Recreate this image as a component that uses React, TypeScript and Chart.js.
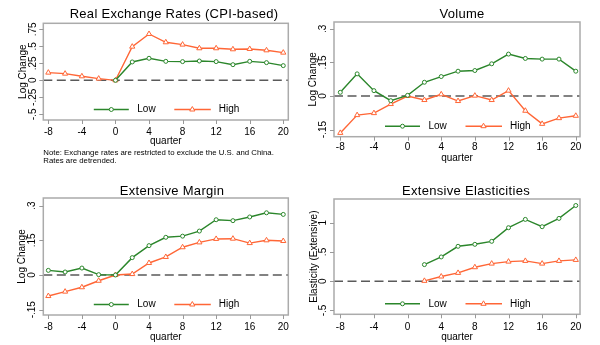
import React, { useEffect, useRef } from "react";
import { Chart, registerables } from "chart.js";

Chart.register(...registerables);

// ---------- data ----------
const QUARTERS = [-8, -6, -4, -2, 0, 2, 4, 6, 8, 10, 12, 14, 16, 18, 20];
const X_TICKS = [-8, -4, 0, 4, 8, 12, 16, 20];
const X_TICK_LABELS = ["-8", "-4", "0", "4", "8", "12", "16", "20"];
const SERIES_NAMES = ["Low", "High"];
const X_TITLE = "quarter";

const TITLES = [
  "Real Exchange Rates (CPI-based)",
  "Volume",
  "Extensive Margin",
  "Extensive Elasticities",
];
const Y_TITLES = ["Log Change", "Log Change", "Log Change", "Elasticity (Extensive)"];

const RER_LOW = [null, null, null, null, 0.0, 0.27, 0.324, 0.279, 0.275, 0.284, 0.275, 0.23, 0.279, 0.26, 0.216];
const RER_HIGH = [0.113, 0.098, 0.059, 0.025, 0.0, 0.495, 0.681, 0.559, 0.525, 0.471, 0.471, 0.456, 0.461, 0.441, 0.407];

const VOL_LOW = [0.0165, 0.099, 0.024, -0.021, 0.003, 0.0615, 0.087, 0.111, 0.114, 0.144, 0.1875, 0.168, 0.165, 0.165, 0.111];
const VOL_HIGH = [-0.165, -0.0855, -0.0765, -0.036, 0.0, -0.018, 0.0075, -0.0225, 0.0015, -0.018, 0.024, -0.066, -0.1245, -0.099, -0.0885];

const EXT_LOW = [0.02, 0.013, 0.03, 0.0015, 0.0, 0.075, 0.127, 0.163, 0.168, 0.19, 0.239, 0.235, 0.251, 0.269, 0.262];
const EXT_HIGH = [-0.091, -0.072, -0.053, -0.025, 0.0, 0.004, 0.052, 0.078, 0.12, 0.141, 0.156, 0.157, 0.138, 0.15, 0.147];

const ELA_LOW = [null, null, null, null, null, 0.284, 0.415, 0.597, 0.631, 0.682, 0.915, 1.057, 0.932, 1.074, 1.295];
const ELA_HIGH = [null, null, null, null, null, 0.006, 0.08, 0.142, 0.239, 0.301, 0.335, 0.347, 0.301, 0.347, 0.364];

const Y_TICKS_RER = [-0.5, -0.25, 0, 0.25, 0.5, 0.75];
const Y_LABELS_RER = ["-.5", "-.25", "0", ".25", ".5", ".75"];
const Y_TICKS_LOG = [-0.15, 0, 0.15, 0.3];
const Y_LABELS_LOG = ["-.15", "0", ".15", ".3"];
const Y_TICKS_ELA = [-0.5, 0, 0.5, 1];
const Y_LABELS_ELA = ["-.5", "0", ".5", "1"];

const NOTE_LINES = [
  "Note: Exchange rates are restricted to exclude the U.S. and China.",
  "Rates are detrended.",
];

// ---------- styles ----------
const GREEN = "#2b862b";
const ORANGE = "#ff6636";
const FRAME = "#ababab";
const FONT = "'Liberation Sans', Arial, sans-serif";
const TEXT = "#000000";

type Panel = {
  left: number; top: number; w: number; h: number;
  pad: { left: number; top: number; right: number; bottom: number };
  xMin: number; xMax: number; yMin: number; yMax: number;
  title: string; titleX: number; titleY: number;
  yTitle: string; yTicks: number[]; yLabels: string[];
  low: (number | null)[]; high: (number | null)[];
  xLabOff: number; xTitleOff: number; yLabOff: number; yTitleOff: number;
  note?: string[];
};

const PANELS: Panel[] = [
  {
    left: 0, top: 0, w: 300, h: 175,
    pad: { left: 43.3, top: 23.3, right: 11.7, bottom: 55 },
    xMin: -8.6, xMax: 20.6, yMin: -0.583, yMax: 0.838,
    title: TITLES[0], titleX: 174, titleY: 14,
    yTitle: Y_TITLES[0], yTicks: Y_TICKS_RER, yLabels: Y_LABELS_RER,
    low: RER_LOW, high: RER_HIGH,
    xLabOff: 12, xTitleOff: 21, yLabOff: 10.5, yTitleOff: 20.5,
    note: NOTE_LINES,
  },
  {
    left: 300, top: 0, w: 300, h: 175,
    pad: { left: 34, top: 22, right: 20, bottom: 38.3 },
    xMin: -8.75, xMax: 20.5, yMin: -0.182, yMax: 0.331,
    title: TITLES[1], titleX: 162, titleY: 14,
    yTitle: Y_TITLES[1], yTicks: Y_TICKS_LOG, yLabels: Y_LABELS_LOG,
    low: VOL_LOW, high: VOL_HIGH,
    xLabOff: 11, xTitleOff: 22, yLabOff: 11, yTitleOff: 21,
  },
  {
    left: 0, top: 175, w: 300, h: 170,
    pad: { left: 43.3, top: 23, right: 11.7, bottom: 30 },
    xMin: -8.6, xMax: 20.6, yMin: -0.173, yMax: 0.333,
    title: TITLES[2], titleX: 172, titleY: 16,
    yTitle: Y_TITLES[2], yTicks: Y_TICKS_LOG, yLabels: Y_LABELS_LOG,
    low: EXT_LOW, high: EXT_HIGH,
    xLabOff: 12.5, xTitleOff: 22, yLabOff: 11.5, yTitleOff: 21.5,
  },
  {
    left: 300, top: 175, w: 300, h: 170,
    pad: { left: 34, top: 24, right: 20, bottom: 30.7 },
    xMin: -8.75, xMax: 20.5, yMin: -0.566, yMax: 1.406,
    title: TITLES[3], titleX: 166, titleY: 16,
    yTitle: Y_TITLES[3], yTicks: Y_TICKS_ELA, yLabels: Y_LABELS_ELA,
    low: ELA_LOW, high: ELA_HIGH,
    xLabOff: 12.5, xTitleOff: 22.5, yLabOff: 11, yTitleOff: 20,
  },
];

function toPoints(vals: (number | null)[]) {
  const out: { x: number; y: number }[] = [];
  QUARTERS.forEach((q, i) => {
    const v = vals[i];
    if (v !== null && v !== undefined) out.push({ x: q, y: v });
  });
  return out;
}

function drawMarker(ctx: CanvasRenderingContext2D, kind: string, x: number, y: number, color: string) {
  ctx.save();
  ctx.strokeStyle = color;
  ctx.fillStyle = "#ffffff";
  ctx.lineWidth = 1;
  ctx.beginPath();
  if (kind === "circle") {
    ctx.arc(x, y, 2, 0, Math.PI * 2);
  } else {
    const r = 3;
    let rad = 0;
    ctx.moveTo(x + Math.sin(rad) * r, y - Math.cos(rad) * r);
    rad += (2 * Math.PI) / 3;
    ctx.lineTo(x + Math.sin(rad) * r, y - Math.cos(rad) * r);
    rad += (2 * Math.PI) / 3;
    ctx.lineTo(x + Math.sin(rad) * r, y - Math.cos(rad) * r);
    ctx.closePath();
  }
  ctx.fill();
  ctx.stroke();
  ctx.restore();
}

function makeDecor(p: Panel) {
  return {
    id: "decor",
    beforeDatasetsDraw(chart: any) {
      const ctx: CanvasRenderingContext2D = chart.ctx;
      const a = chart.chartArea;
      const xs = chart.scales.x;
      const ys = chart.scales.y;
      ctx.save();
      // zero reference line
      const y0 = ys.getPixelForValue(0);
      ctx.strokeStyle = "#5a5a5a";
      ctx.lineWidth = 1.5;
      ctx.setLineDash([9, 4.5]);
      ctx.beginPath();
      ctx.moveTo(a.left, y0);
      ctx.lineTo(a.right, y0);
      ctx.stroke();
      ctx.setLineDash([]);
      // frame
      ctx.strokeStyle = FRAME;
      ctx.lineWidth = 1.5;
      ctx.strokeRect(a.left, a.top, a.right - a.left, a.bottom - a.top);
      // tick marks
      ctx.lineWidth = 1;
      ctx.strokeStyle = "#999999";
      ctx.beginPath();
      X_TICKS.forEach((t) => {
        const x = Math.round(xs.getPixelForValue(t)) + 0.5;
        ctx.moveTo(x, a.bottom);
        ctx.lineTo(x, a.bottom + 4);
      });
      p.yTicks.forEach((t) => {
        const y = Math.round(ys.getPixelForValue(t)) + 0.5;
        ctx.moveTo(a.left, y);
        ctx.lineTo(a.left - 4, y);
      });
      ctx.stroke();
      ctx.restore();
    },
    afterDraw(chart: any) {
      const ctx: CanvasRenderingContext2D = chart.ctx;
      const a = chart.chartArea;
      const xs = chart.scales.x;
      const ys = chart.scales.y;
      ctx.save();
      ctx.fillStyle = TEXT;
      // title
      ctx.font = `13px ${FONT}`;
      (ctx as any).letterSpacing = "0.3px";
      ctx.textAlign = "center";
      ctx.textBaseline = "middle";
      ctx.fillText(p.title, p.titleX, p.titleY);
      (ctx as any).letterSpacing = "0px";
      // x tick labels
      ctx.font = `10px ${FONT}`;
      X_TICKS.forEach((t, i) => {
        ctx.fillText(X_TICK_LABELS[i], xs.getPixelForValue(t), a.bottom + p.xLabOff);
      });
      ctx.fillText(X_TITLE, (a.left + a.right) / 2, a.bottom + p.xTitleOff);
      // y tick labels (rotated)
      p.yTicks.forEach((t, i) => {
        ctx.save();
        ctx.translate(a.left - p.yLabOff, ys.getPixelForValue(t));
        ctx.rotate(-Math.PI / 2);
        ctx.fillText(p.yLabels[i], 0, 0);
        ctx.restore();
      });
      // y title
      ctx.save();
      ctx.translate(a.left - p.yTitleOff, (a.top + a.bottom) / 2);
      ctx.rotate(-Math.PI / 2);
      ctx.fillText(p.yTitle, 0, 0);
      ctx.restore();
      // legend inside plot
      const cx = (a.left + a.right) / 2;
      const ly = a.bottom - 10.5;
      ctx.lineWidth = 1.4;
      ctx.strokeStyle = GREEN;
      ctx.beginPath();
      ctx.moveTo(cx - 72, ly);
      ctx.lineTo(cx - 37, ly);
      ctx.stroke();
      drawMarker(ctx, "circle", cx - 54.5, ly, GREEN);
      ctx.strokeStyle = ORANGE;
      ctx.beginPath();
      ctx.moveTo(cx + 8.5, ly);
      ctx.lineTo(cx + 45, ly);
      ctx.stroke();
      drawMarker(ctx, "triangle", cx + 26.5, ly, ORANGE);
      ctx.fillStyle = TEXT;
      ctx.textAlign = "left";
      ctx.fillText(SERIES_NAMES[0], cx - 28.5, ly);
      ctx.fillText(SERIES_NAMES[1], cx + 53, ly);
      // note
      if (p.note) {
        ctx.font = `7.8px ${FONT}`;
        ctx.textBaseline = "middle";
        p.note.forEach((line, i) => {
          ctx.fillText(line, a.left, a.bottom + 33 + i * 7.5);
        });
      }
      ctx.restore();
    },
  };
}

function PanelChart({ p }: { p: Panel }) {
  const ref = useRef<HTMLCanvasElement | null>(null);
  useEffect(() => {
    if (!ref.current) return;
    const chart = new Chart(ref.current, {
      type: "line",
      data: {
        datasets: [
          {
            label: SERIES_NAMES[0],
            data: toPoints(p.low),
            borderColor: GREEN,
            borderWidth: 1.4,
            pointStyle: "circle",
            pointRadius: 2,
            pointBorderWidth: 1,
            pointBorderColor: GREEN,
            pointBackgroundColor: "#ffffff",
            tension: 0,
            fill: false,
          },
          {
            label: SERIES_NAMES[1],
            data: toPoints(p.high),
            borderColor: ORANGE,
            borderWidth: 1.4,
            pointStyle: "triangle",
            pointRadius: 3,
            pointBorderWidth: 1,
            pointBorderColor: ORANGE,
            pointBackgroundColor: "#ffffff",
            tension: 0,
            fill: false,
          },
        ],
      },
      options: {
        responsive: false,
        devicePixelRatio: 1,
        animation: false,
        events: [],
        layout: { padding: p.pad },
        scales: {
          x: { type: "linear", min: p.xMin, max: p.xMax, display: false },
          y: { type: "linear", min: p.yMin, max: p.yMax, display: false },
        },
        plugins: {
          legend: { display: false },
          title: { display: false },
          tooltip: { enabled: false },
        },
      },
      plugins: [makeDecor(p)],
    } as any);
    return () => chart.destroy();
  }, [p]);
  return (
    <canvas
      ref={ref}
      width={p.w}
      height={p.h}
      style={{ position: "absolute", left: p.left, top: p.top, width: p.w, height: p.h }}
    />
  );
}

export default function App() {
  return (
    <div
      style={{
        position: "fixed",
        left: 0,
        top: 0,
        width: 600,
        height: 345,
        background: "#ffffff",
        overflow: "hidden",
      }}
    >
      {PANELS.map((p, i) => (
        <PanelChart key={i} p={p} />
      ))}
    </div>
  );
}
